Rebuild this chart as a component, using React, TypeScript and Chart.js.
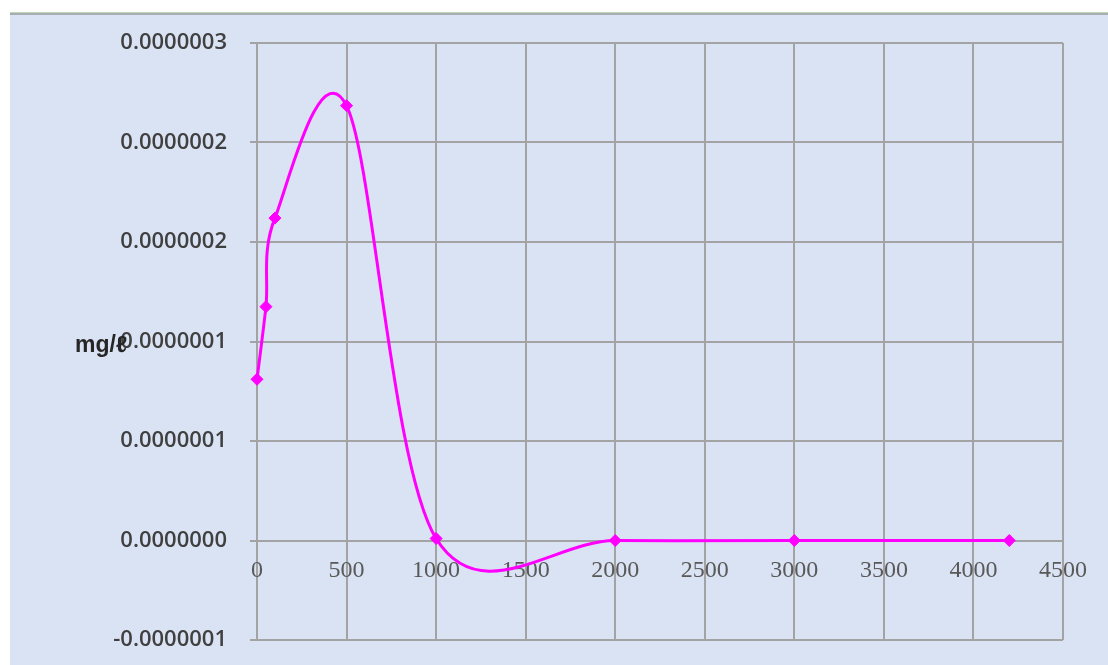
import React, { useEffect, useRef } from "react";
import { Chart, registerables } from "chart.js";

Chart.register(...registerables);

const xValues = [0, 50, 100, 500, 1000, 2000, 3000, 4200];
const yValues = [8.1e-8, 1.175e-7, 1.62e-7, 2.185e-7, 1e-9, 0, 0, 0];
const yTickLabels = [
  "-0.0000001",
  "0.0000000",
  "0.0000001",
  "0.0000001",
  "0.0000002",
  "0.0000002",
  "0.0000003",
];
const yAxisTitle = "mg/ℓ";

const W = 1108;
const H = 665;

const bgPlugin = {
  id: "bgPlugin",
  beforeDraw(chart: any) {
    const ctx = chart.ctx;
    ctx.save();
    ctx.fillStyle = "#ffffff";
    ctx.fillRect(0, 0, W, H);
    ctx.fillStyle = "#dae3f3";
    ctx.fillRect(10, 13, W - 10, H - 13);
    ctx.fillStyle = "#bcd6b6";
    ctx.fillRect(10, 12, W - 10, 1);
    ctx.fillStyle = "#a8acb3";
    ctx.fillRect(10, 13, W - 10, 2);
    ctx.restore();
  },
  afterDraw(chart: any) {
    const ctx = chart.ctx;
    ctx.save();
    ctx.font = "bold 23px 'Liberation Sans', 'DejaVu Sans', sans-serif";
    ctx.fillStyle = "#262626";
    ctx.textBaseline = "alphabetic";
    ctx.textAlign = "left";
    ctx.fillText(yAxisTitle, 75, 352);
    ctx.restore();
  },
};

// Excel-like smoothing: uniform Catmull-Rom control points on the library's point elements
const smoothPlugin = {
  id: "smoothPlugin",
  beforeDatasetDraw(chart: any, args: any) {
    const meta = args.meta;
    const line = meta.dataset;
    if (!line) return;
    line.updateControlPoints(chart.chartArea, "x");
    const pts = meta.data;
    const n = pts.length;
    for (let i = 0; i < n; i++) {
      const p = pts[i];
      const prev = pts[Math.max(0, i - 1)];
      const next = pts[Math.min(n - 1, i + 1)];
      const dx = (next.x - prev.x) / 6;
      const dy = (next.y - prev.y) / 6;
      p.cp1x = p.x - dx;
      p.cp1y = p.y - dy;
      p.cp2x = p.x + dx;
      p.cp2y = p.y + dy;
    }
    line._path = undefined;
  },
};

export default function App() {
  const ref = useRef<HTMLCanvasElement>(null);
  useEffect(() => {
    if (!ref.current) return;
    const chart = new Chart(ref.current, {
      type: "line",
      data: {
        datasets: [
          {
            data: xValues.map((x, i) => ({ x, y: yValues[i] })),
            borderColor: "#ff00ff",
            backgroundColor: "#ff00ff",
            borderWidth: 3,
            tension: 0.4,
            pointStyle: "rectRot",
            pointRadius: 6,
            pointBorderWidth: 1,
            pointBorderColor: "#ff00ff",
            pointBackgroundColor: "#ff00ff",
            fill: false,
            clip: false as any,
          },
        ],
      },
      options: {
        animation: false,
        responsive: false,
        devicePixelRatio: 1,
        layout: { padding: { left: 0, top: 43, right: 45, bottom: 25 } },
        plugins: {
          legend: { display: false },
          tooltip: { enabled: false },
        },
        scales: {
          x: {
            type: "linear",
            position: { y: 0 } as any,
            min: 0,
            max: 4500,
            afterFit: (s: any) => {
              s.height = 0;
              s.paddingTop = 0;
              s.paddingBottom = 0;
              s.paddingLeft = 0;
              s.paddingRight = 0;
            },
            ticks: {
              stepSize: 500,
              padding: 16,
              color: "#595959",
              font: { family: "'Liberation Serif', serif", size: 24 },
              maxRotation: 0,
              autoSkip: false,
              callback: (v: any) => String(v),
            },
            grid: {
              color: "#a3a3a3",
              lineWidth: 2,
              tickLength: 0,
            },
            border: { display: false },
          },
          y: {
            type: "linear",
            position: "left",
            min: -0.00000005,
            max: 0.00000025,
            afterFit: (s: any) => {
              s.width = 257;
              s.paddingTop = 0;
              s.paddingBottom = 0;
            },
            ticks: {
              stepSize: 0.00000005,
              padding: 23,
              color: "#404040",
              font: { family: "'Open Sans', sans-serif", size: 22, weight: "600" },
              callback: (_v: any, i: number) => yTickLabels[i],
            },
            grid: {
              color: "#a3a3a3",
              lineWidth: 2,
              tickLength: 7,
            },
            border: { display: false },
          },
        },
      },
      plugins: [bgPlugin, smoothPlugin],
    });
    return () => chart.destroy();
  }, []);
  return (
    <div style={{ position: "absolute", left: 0, top: 0, width: W, height: H }}>
      <canvas ref={ref} width={W} height={H} style={{ width: W, height: H, display: "block" }} />
    </div>
  );
}
